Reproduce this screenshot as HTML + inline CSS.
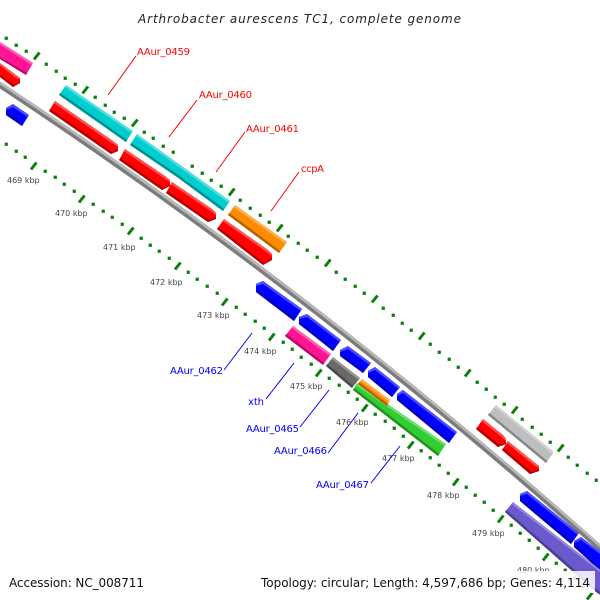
<!DOCTYPE html>
<html><head><meta charset="utf-8"><style>
html,body{margin:0;padding:0;background:#fff}
svg{display:block}
text{font-family:"DejaVu Sans",sans-serif}
.r{fill:#f00;font-size:10px}.b{fill:#00f;font-size:10px}
.k{fill:#444;font-size:8px}
.f{fill:#111;font-size:12px}
</style></head><body>
<svg width="600" height="600" viewBox="0 0 600 600" xmlns="http://www.w3.org/2000/svg">
<rect width="600" height="600" fill="#fff"/>
<!-- backbone -->
<path d="M-6,81L0,85Q308,288 600,548L606,554" fill="none" stroke="#7c7c7c" stroke-width="6"/>
<path transform="translate(.9,-1.3)" d="M-6,81L0,85Q308,288 600,548L606,554" fill="none" stroke="#b8b8b8" stroke-width="2.500"/>
<!-- outer dots -->
<g fill="none" stroke="#0a800a" stroke-width="3" stroke-linecap="butt">
<path d="M5,37h2.500v2.500h-2.500zM15,44h2.500v2.500h-2.500zM25,50h2.500v2.500h-2.500zM45,63h2.500v2.500h-2.500zM55,70h2.500v2.500h-2.500zM64,77h2.500v2.500h-2.500zM74,83h2.500v2.500h-2.500zM94,96h2.500v2.500h-2.500zM104,104h2.500v2.500h-2.500zM113,111h2.500v2.500h-2.500zM123,117h2.500v2.500h-2.500zM143,131h2.500v2.500h-2.500zM152,137h2.500v2.500h-2.500zM162,145h2.500v2.500h-2.500zM172,151h2.500v2.500h-2.500zM191,165h2.500v2.500h-2.500zM201,172h2.500v2.500h-2.500zM210,179h2.500v2.500h-2.500zM220,185h2.500v2.500h-2.500zM239,199h2.500v2.500h-2.500zM249,207h2.500v2.500h-2.500zM259,214h2.500v2.500h-2.500zM268,221h2.500v2.500h-2.500zM287,235h2.500v2.500h-2.500zM297,242h2.500v2.500h-2.500zM306,249h2.500v2.500h-2.500zM316,256h2.500v2.500h-2.500zM335,271h2.500v2.500h-2.500zM344,278h2.500v2.500h-2.500zM354,285h2.500v2.500h-2.500zM363,292h2.500v2.500h-2.500zM382,307h2.500v2.500h-2.500zM392,314h2.500v2.500h-2.500zM401,322h2.500v2.500h-2.500zM410,329h2.500v2.500h-2.500zM429,343h2.500v2.500h-2.500zM438,351h2.500v2.500h-2.500zM448,358h2.500v2.500h-2.500zM457,366h2.500v2.500h-2.500zM476,381h2.500v2.500h-2.500zM485,388h2.500v2.500h-2.500zM494,396h2.500v2.500h-2.500zM503,403h2.500v2.500h-2.500zM521,418h2.500v2.500h-2.500zM531,426h2.500v2.500h-2.500zM540,433h2.500v2.500h-2.500zM549,441h2.500v2.500h-2.500zM567,456h2.500v2.500h-2.500zM576,464h2.500v2.500h-2.500zM586,472h2.500v2.500h-2.500zM595,479h2.500v2.500h-2.500z" fill="#0a800a" stroke="#0a800a" stroke-width=".7"/>
<path d="M34,59.500l5.500,-7M82.500,93.500l5.500,-7M132,126.500l5.500,-7M229,195.500l5.500,-7M277,231.500l5.500,-7M325,266.500l5.500,-7M372,302.500l5.500,-7M419,339.500l5.500,-7M465,376.500l5.500,-7M512,413.500l5.500,-7M558,451.500l5.500,-7"/>
<!-- inner dots -->
<path d="M5,143h2.500v2.500h-2.500zM15,150h2.500v2.500h-2.500zM24,156h2.500v2.500h-2.500zM44,170h2.500v2.500h-2.500zM54,176h2.500v2.500h-2.500zM63,183h2.500v2.500h-2.500zM73,190h2.500v2.500h-2.500zM92,203h2.500v2.500h-2.500zM102,210h2.500v2.500h-2.500zM111,216h2.500v2.500h-2.500zM121,223h2.500v2.500h-2.500zM140,237h2.500v2.500h-2.500zM149,244h2.500v2.500h-2.500zM158,250h2.500v2.500h-2.500zM168,257h2.500v2.500h-2.500zM187,271h2.500v2.500h-2.500zM196,278h2.500v2.500h-2.500zM206,285h2.500v2.500h-2.500zM216,292h2.500v2.500h-2.500zM235,306h2.500v2.500h-2.500zM244,313h2.500v2.500h-2.500zM254,320h2.500v2.500h-2.500zM263,327h2.500v2.500h-2.500zM282,341h2.500v2.500h-2.500zM291,348h2.500v2.500h-2.500zM300,356h2.500v2.500h-2.500zM310,363h2.500v2.500h-2.500zM328,377h2.500v2.500h-2.500zM338,384h2.500v2.500h-2.500zM347,391h2.500v2.500h-2.500zM356,398h2.500v2.500h-2.500zM374,413h2.500v2.500h-2.500zM384,420h2.500v2.500h-2.500zM393,427h2.500v2.500h-2.500zM402,435h2.500v2.500h-2.500zM420,449.500h2.500v2.500h-2.500zM429,456.500h2.500v2.500h-2.500zM438,464h2.500v2.500h-2.500zM447,472h2.500v2.500h-2.500zM465,486h2.500v2.500h-2.500zM474,494h2.500v2.500h-2.500zM483,501h2.500v2.500h-2.500zM492,509h2.500v2.500h-2.500zM510,524h2.500v2.500h-2.500zM519,532h2.500v2.500h-2.500zM528,539h2.500v2.500h-2.500zM537,547h2.500v2.500h-2.500zM555,562h2.500v2.500h-2.500zM564,569h2.500v2.500h-2.500zM573,577h2.500v2.500h-2.500zM582,586h2.500v2.500h-2.500z" fill="#0a800a" stroke="#0a800a" stroke-width=".7"/>
<path d="M31,169.500l5.500,-7M79,202.500l5.500,-7M128,234.500l5.500,-7M175,269.500l5.500,-7M222,305.500l5.500,-7M269,340.500l5.500,-7M316,376.500l5.500,-7M362,411.500l5.500,-7M408,448.500l5.500,-7M453,485.500l5.500,-7M498,522.500l5.500,-7M543,560.500l5.500,-7M587,599.500l5.500,-7"/>
</g>
<!-- leader lines -->
<g stroke="#f00" stroke-width="1" fill="none">
<path d="M136,56L108,95M197,100L169,137M245,132L216,172M299,172L271,211"/>
</g>
<g stroke="#00f" stroke-width="1" fill="none">
<path d="M224,370L252,333M266,399L294,363M300,427L329,390M328,453L358,413M371,483L400,446"/>
</g>
<!-- pink 1 -->
<polygon points="0,42 33,63 26,75 0,59" fill="#ff1493"/><polygon points="0,42 33,63 31.700,65 0,44.500" fill="#ff5fb3"/><polygon points="0,59 26,75 27.300,73 0,57" fill="#b20e67"/>
<!-- red top-left -->
<polygon points="0,63 16,75 20,78 20,83 13,87 0,77" fill="#f00"/><polygon points="0,63 16,75 20,78 20,79.500 14.700,77 0,65.500" fill="#ff5050"/><polygon points="0,77 13,87 20,83 20,82 14.300,85 0,75" fill="#b20000"/>
<!-- small blue -->
<polygon points="13,104 29,115 22,126 6,115 6,108" fill="#00f"/><polygon points="13,104 29,115 27.700,117 13,107 6,110 6,108" fill="#4c4cff"/><polygon points="6,115 22,126 23.300,124 7.300,113" fill="#0000b2"/>
<!-- cyan -->
<polygon points="66,85 133,131 126,142 59,95" fill="#00cdcd"/><polygon points="66,85 133,131 131.700,133 64.700,87" fill="#50dede"/><polygon points="59,95 126,142 127.300,140 60.300,93" fill="#009090"/>
<polygon points="137,134 183,167 230,201 223,211 177,177 130,145" fill="#00cdcd"/><polygon points="137,134 183,167 230,201 228.700,203 181.700,169 135.700,136" fill="#50dede"/><polygon points="130,145 177,177 223,211 224.300,209 178.300,175 131.300,143" fill="#009090"/>
<!-- red 1-4 -->
<polygon points="55,101 113,141 118,145 118,151 111,154 49,111" fill="#f00"/><polygon points="55,101 113,141 118,145 118,147 111.700,143 53.700,103" fill="#ff5050"/><polygon points="49,111 111,154 118,151 118,149.500 112.300,152 50.300,109" fill="#b20000"/>
<polygon points="125,149 165,176 170,180 170,186 162,190 119,160" fill="#f00"/><polygon points="125,149 165,176 170,180 170,182 163.700,178 123.700,151" fill="#ff5050"/><polygon points="119,160 162,190 170,186 170,184.500 163.300,188 120.300,158" fill="#b20000"/>
<polygon points="172,182 212,209 216,213 216,219 208,222 166,193" fill="#f00"/><polygon points="172,182 212,209 216,213 216,215 210.700,211 170.700,184" fill="#ff5050"/><polygon points="166,193 208,222 216,219 216,217.500 209.300,220 167.300,191" fill="#b20000"/>
<polygon points="224,219 268,250 272,254 272,260 263,265 217,229" fill="#f00"/><polygon points="224,219 268,250 272,254 272,256 266.700,252 222.700,221" fill="#ff5050"/><polygon points="217,229 263,265 272,260 272,258.500 264.300,263 218.300,227" fill="#b20000"/>
<!-- orange -->
<polygon points="235,205 287,242 279,253 228,215" fill="#ff8c00"/><polygon points="235,205 287,242 285.700,244 233.700,207" fill="#ffae50"/><polygon points="228,215 279,253 280.300,251 229.300,213" fill="#b26200"/>
<!-- blue reverse genes -->
<polygon points="263,281 302,309 294,321 256,292 256,284" fill="#00f"/><polygon points="263,281 302,309 300.700,311 263,284 256,286 256,284" fill="#4c4cff"/><polygon points="256,292 294,321 295.300,319 257.300,290" fill="#0000b2"/>
<polygon points="307,314 341,340 333,351 299,324 299,317" fill="#00f"/><polygon points="307,314 341,340 339.700,342 307,317 299,319 299,317" fill="#4c4cff"/><polygon points="299,324 333,351 334.300,349 300.300,322" fill="#0000b2"/>
<polygon points="348,346 371,363 363,373 340,356 340,350" fill="#00f"/><polygon points="348,346 371,363 369.700,365 348,349 340,352 340,350" fill="#4c4cff"/><polygon points="340,356 363,373 364.300,371 341.300,354" fill="#0000b2"/>
<polygon points="375,367 400,387 392,397 368,377 368,371" fill="#00f"/><polygon points="375,367 400,387 398.700,389 375,370 368,373 368,371" fill="#4c4cff"/><polygon points="368,377 392,397 393.300,395 369.300,375" fill="#0000b2"/>
<polygon points="403,390 457,432 449,443 397,400 397,394" fill="#00f"/><polygon points="403,390 457,432 455.700,434 403,393 397,396 397,394" fill="#4c4cff"/><polygon points="397,400 449,443 450.300,441 398.300,398" fill="#0000b2"/>
<!-- pink 2 -->
<polygon points="293,326 331,354 323,365 285,336" fill="#ff1493"/><polygon points="293,326 331,354 329.700,356 291.700,328" fill="#ff5fb3"/><polygon points="285,336 323,365 324.300,363 286.300,334" fill="#b20e67"/>
<!-- dark gray -->
<polygon points="333,357 360,378 352,388 326,366" fill="#696969"/><polygon points="333,357 360,378 358.700,380 331.700,359" fill="#969696"/><polygon points="326,366 352,388 353.300,386 327.300,364" fill="#494949"/>
<!-- green -->
<polygon points="357,383 446,444 438,456 353,390" fill="#32cd32"/><polygon points="357,383 446,444 444.700,446 355.700,385" fill="#70dd70"/><polygon points="353,390 438,456 439.300,454 354.300,388" fill="#238f23"/>
<!-- orange small -->
<polygon points="362,379 390,400 387,406 358,384" fill="#ff8c00"/><polygon points="362,379 390,400 389,402 361,381" fill="#ffae50"/><polygon points="358,384 387,406 388,404 359,382" fill="#b26200"/>
<!-- light gray -->
<polygon points="496,405 554,452 546,463 488,415" fill="#bebebe"/><polygon points="496,405 554,452 552.700,454 494.700,407" fill="#d2d2d2"/><polygon points="488,415 546,463 547.300,461 489.300,413" fill="#858585"/>
<!-- red 5,6 -->
<polygon points="483,419 503,435 506,439 506,444 498,447 476,429" fill="#f00"/><polygon points="483,419 503,435 506,439 506,441 501.700,437 481.700,421" fill="#ff5050"/><polygon points="476,429 498,447 506,444 506,442.500 499.300,445 477.300,427" fill="#b20000"/>
<polygon points="508,441 535,463 539,466 539,471 530,474 502,450" fill="#f00"/><polygon points="508,441 535,463 539,466 539,468 533.700,465 506.700,443" fill="#ff5050"/><polygon points="502,450 530,474 539,471 539,469.500 531.300,472 503.300,448" fill="#b20000"/>
<!-- blue 6,7 -->
<polygon points="527,491 579,533 571,544 520,501 520,494" fill="#00f"/><polygon points="527,491 579,533 577.700,535 527,494 520,496 520,494" fill="#4c4cff"/><polygon points="520,501 571,544 572.300,542 521.300,499" fill="#0000b2"/>
<polygon points="581,537 602,553 602,572 574,547 574,541" fill="#00f"/><polygon points="581,537 602,553 602,555.500 581,540 574,543 574,541" fill="#4c4cff"/><polygon points="574,547 602,572 602,569.500 575.300,545" fill="#0000b2"/>
<!-- purple -->
<polygon points="513,502 602,571 602,596 596,592 505,512" fill="#6a5acd"/><polygon points="513,502 602,571 602,573.500 511.700,504" fill="#9689dc"/><polygon points="505,512 596,592 602,596 602,593.500 506.300,510" fill="#4a3f8f"/>
<!-- labels -->
<text x="137" y="55" class="r" textLength="53">AAur_0459</text>
<text x="199" y="98" class="r" textLength="53">AAur_0460</text>
<text x="246" y="132" class="r" textLength="53">AAur_0461</text>
<text x="301" y="172" class="r" textLength="23">ccpA</text>
<text x="170" y="374" class="b" textLength="53">AAur_0462</text>
<text x="248" y="405" class="b" textLength="16">xth</text>
<text x="246" y="432" class="b" textLength="53">AAur_0465</text>
<text x="274" y="454" class="b" textLength="53">AAur_0466</text>
<text x="316" y="488" class="b" textLength="53">AAur_0467</text>
<text x="7" y="183" class="k">469 kbp</text>
<text x="55" y="216" class="k">470 kbp</text>
<text x="103" y="250" class="k">471 kbp</text>
<text x="150" y="285" class="k">472 kbp</text>
<text x="197" y="318" class="k">473 kbp</text>
<text x="244" y="354" class="k">474 kbp</text>
<text x="290" y="389" class="k">475 kbp</text>
<text x="336" y="425" class="k">476 kbp</text>
<text x="382" y="461" class="k">477 kbp</text>
<text x="427" y="498" class="k">478 kbp</text>
<text x="472" y="536" class="k">479 kbp</text>
<text x="517" y="573" class="k">480 kbp</text>
<!-- footer -->
<rect x="5" y="571" width="143" height="22" fill="#fff" fill-opacity=".85"/>
<rect x="257" y="571" width="338" height="22" fill="#fff" fill-opacity=".85"/>
<text x="138" y="23" font-size="12" font-style="italic" fill="#222" textLength="323">Arthrobacter aurescens TC1, complete genome</text>
<text x="9" y="587" class="f" textLength="135">Accession: NC_008711</text>
<text x="261" y="587" class="f" textLength="329">Topology: circular; Length: 4,597,686 bp; Genes: 4,114</text>
</svg>
</body></html>
